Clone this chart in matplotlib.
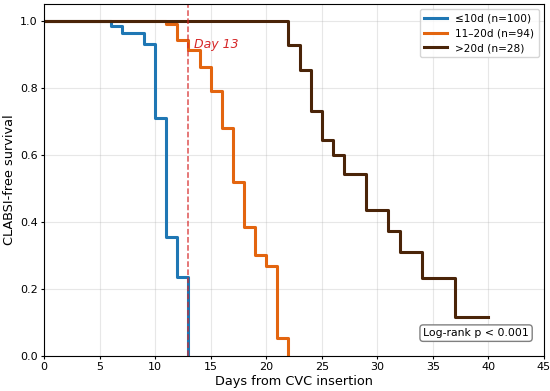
import matplotlib
matplotlib.use('Agg')
import matplotlib.pyplot as plt

# step data (time, survival)
short_t = [0, 6, 7, 9, 10, 11, 12, 13, 13]
short_s = [1.0, 0.985, 0.965, 0.93, 0.71, 0.355, 0.235, 0.0, 0.0]

mid_t = [0, 11, 12, 13, 14, 15, 16, 17, 18, 19, 20, 21, 22, 22]
mid_s = [1.0, 0.99, 0.943, 0.913, 0.863, 0.79, 0.68, 0.52, 0.385, 0.30, 0.27, 0.054, 0.0, 0.0]

long_t = [0, 22, 23, 24, 25, 26, 27, 29, 31, 32, 34, 37, 40]
long_s = [1.0, 0.928, 0.854, 0.73, 0.645, 0.60, 0.543, 0.436, 0.373, 0.31, 0.233, 0.116, 0.116]

labels = ['≤10d (n=100)', '11\u201320d (n=94)', '>20d (n=28)']
colors = ['#1f77b4', '#e3650f', '#4a2408']
cutoff = 13

fig = plt.figure(figsize=(5.5, 3.91), dpi=100)
ax = fig.add_axes([0.08, 0.0895, 0.909, 0.9])

for t, s, lab, c in zip([short_t, mid_t, long_t], [short_s, mid_s, long_s], labels, colors):
    ax.step(t, s, where='post', color=c, lw=2.2, label=lab)

ax.axvline(cutoff, color='#d62728', ls='--', lw=1.1, alpha=0.8)
ax.text(cutoff + 0.5, 0.93, 'Day 13', color='#d62728', fontsize=9, style='italic', va='center')

ax.set_xlim(0, 45)
ax.set_ylim(0, 1.05)
ax.set_xticks(range(0, 46, 5))
ax.set_yticks([0, 0.2, 0.4, 0.6, 0.8, 1.0])
ax.set_yticklabels(['0.0', '0.2', '0.4', '0.6', '0.8', '1.0'])
ax.tick_params(labelsize=8, length=2.5, pad=2)
ax.grid(True, alpha=0.3)
ax.set_xlabel('Days from CVC insertion', fontsize=9.3, labelpad=2)
ax.set_ylabel('CLABSI-free survival', fontsize=9.3, labelpad=3)

ax.legend(loc='upper right', fontsize=7.6, handlelength=2.2, labelspacing=0.45)
ax.text(0.97, 0.065, 'Log-rank p < 0.001', transform=ax.transAxes, ha='right', va='center',
        fontsize=7.8, bbox=dict(boxstyle='round,pad=0.3', fc='white', ec='gray'))

fig.savefig('out.png', dpi=100)
